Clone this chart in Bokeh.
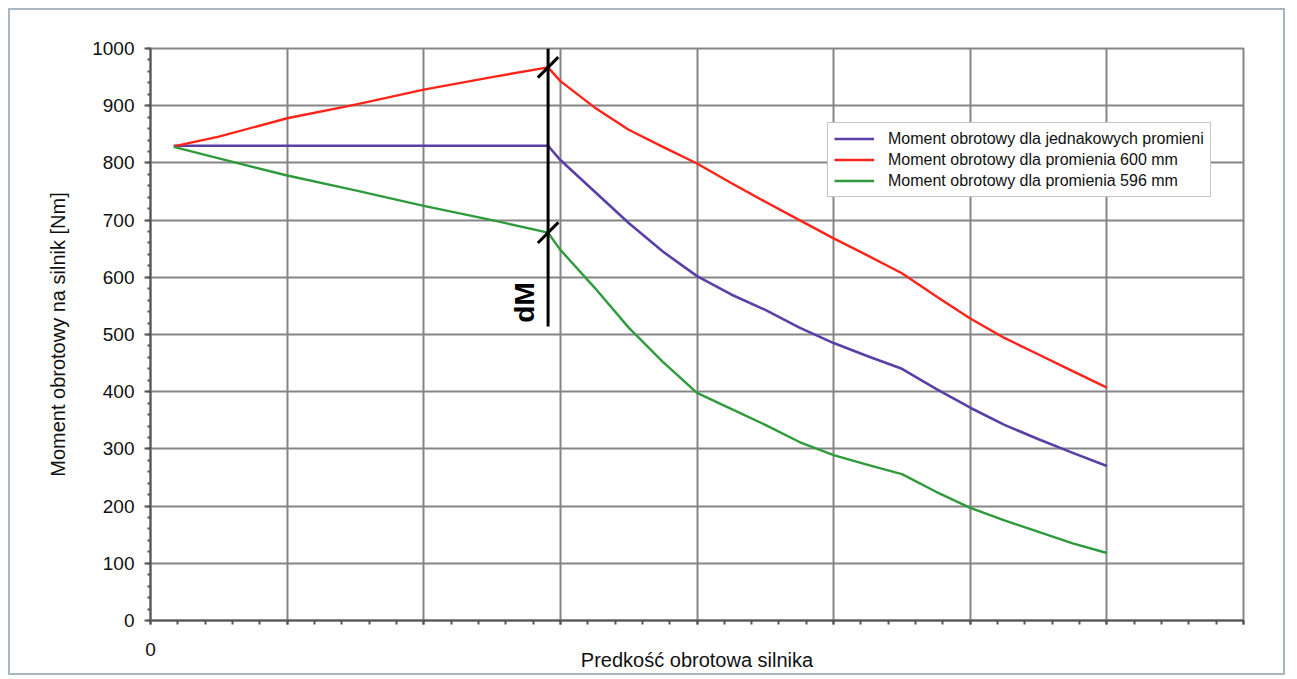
import math
from bokeh.plotting import figure
from bokeh.models import FixedTicker, Legend, LegendItem, Range1d
from bokeh.core.properties import value
from bokeh.embed import file_html
from bokeh.resources import INLINE

# ---- data (speed in grid units, torque in Nm) ----
x_equal = [0.17, 2.91, 3.0, 3.25, 3.5, 3.75, 4.0, 4.25, 4.5, 4.75, 5.0, 5.25, 5.5, 5.75, 6.0, 6.25, 6.5, 6.75, 7.0]
y_equal = [830, 830, 805, 750, 695, 645, 602, 570, 543, 512, 485, 462, 440, 405, 372, 342, 317, 293, 270]

x_600 = [0.17, 0.5, 1.0, 1.5, 2.0, 2.5, 2.91, 3.0, 3.25, 3.5, 3.75, 4.0, 4.25, 4.5, 4.75, 5.0, 5.25, 5.5, 5.75, 6.0, 6.25, 6.5, 6.75, 7.0]
y_600 = [829, 846, 878, 902, 928, 950, 967, 943, 897, 858, 828, 799, 765, 732, 700, 668, 638, 607, 567, 528, 494, 465, 436, 407]

x_596 = [0.17, 0.5, 1.0, 1.5, 2.0, 2.5, 2.91, 3.0, 3.25, 3.5, 3.75, 4.0, 4.25, 4.5, 4.75, 5.0, 5.25, 5.5, 5.75, 6.0, 6.25, 6.5, 6.75, 7.0]
y_596 = [828, 808, 778, 752, 725, 700, 678, 648, 582, 512, 452, 398, 370, 342, 312, 289, 272, 256, 225, 197, 175, 155, 135, 118]

labels = ["Moment obrotowy dla jednakowych promieni",
          "Moment obrotowy dla promienia 600 mm",
          "Moment obrotowy dla promienia 596 mm"]
colors = ["#5a3fa6", "#ff2318", "#2f9a3c"]

x_ticks = [0, 1, 2, 3, 4, 5, 6, 7, 8]
x_tick_labels = ["0", "", "", "", "", "", "", "", ""]
y_ticks = [0, 100, 200, 300, 400, 500, 600, 700, 800, 900, 1000]

break_x = 2.91
dm_line_bottom = 514
dm_text = "dM"

FONT = "Liberation Sans"

p = figure(width=1277, height=667, output_backend="svg", toolbar_location=None,
           x_range=Range1d(0, 8), y_range=Range1d(0, 1000),
           min_border_left=140, min_border_right=44, min_border_top=38, min_border_bottom=57,
           background_fill_color="white", border_fill_color="white")
p.styles = {"border": "2px solid #a9b7c3",
            "margin-left": "8px", "margin-top": "8px"}

# ticks
p.xaxis.ticker = FixedTicker(ticks=x_ticks, minor_ticks=[i * 0.2 for i in range(41)])
p.xaxis.major_label_overrides = {t: l for t, l in zip(x_ticks, x_tick_labels)}
p.yaxis.ticker = FixedTicker(ticks=y_ticks, minor_ticks=list(range(0, 1001, 20)))

for ax in (p.xaxis[0], p.yaxis[0]):
    ax.axis_line_color = "#555555"
    ax.axis_line_width = 2
    ax.major_tick_line_color = "#555555"
    ax.minor_tick_line_color = "#555555"
    ax.major_tick_line_width = 2
    ax.minor_tick_line_width = 2
    ax.major_tick_in = 0
    ax.minor_tick_in = 0
    ax.major_label_text_font = FONT
    ax.major_label_text_font_size = "19px"
    ax.major_label_text_color = "#111111"
    ax.axis_label_text_font = FONT
    ax.axis_label_text_font_size = "20px"
    ax.axis_label_text_font_style = "normal"
    ax.axis_label_text_color = "#111111"

p.xaxis.major_tick_out = 4
p.xaxis.minor_tick_out = 4
p.xaxis.major_label_standoff = 18
p.xaxis.axis_label = "Predkość obrotowa silnika"
p.xaxis.axis_label_standoff = -10

p.yaxis.major_tick_out = 6
p.yaxis.minor_tick_out = 3
p.yaxis.major_label_standoff = 10
p.yaxis.axis_label = "Moment obrotowy na silnik [Nm]"
p.yaxis.axis_label_standoff = 20

for g in (p.xgrid[0], p.ygrid[0]):
    g.grid_line_color = "#858585"
    g.grid_line_width = 2
    g.grid_line_alpha = 1
p.xgrid.ticker = FixedTicker(ticks=x_ticks)
p.ygrid.ticker = FixedTicker(ticks=y_ticks)
p.outline_line_color = "#858585"
p.outline_line_width = 2

# curves
r1 = p.line(x_equal, y_equal, line_color=colors[0], line_width=2.6, line_join="round")
r2 = p.line(x_600, y_600, line_color=colors[1], line_width=2.4, line_join="round")
r3 = p.line(x_596, y_596, line_color=colors[2], line_width=2.4, line_join="round")

# dM annotation
top_val = y_600[x_600.index(break_x)]
bot_val = y_596[x_596.index(break_x)]
p.line([break_x, break_x], [1000, dm_line_bottom], line_color="black", line_width=3)
dx, dy = 0.075, 18
p.line([break_x - dx, break_x + dx], [top_val - dy, top_val + dy], line_color="black", line_width=3)
p.line([break_x - dx, break_x + dx], [bot_val - dy, bot_val + dy], line_color="black", line_width=3)
p.text(x=[break_x - 0.17], y=[(bot_val + dm_line_bottom) / 2 - 40], text=[dm_text], angle=math.pi / 2,
       text_align="center", text_baseline="middle", text_font=value(FONT),
       text_font_size="28px", text_font_style="bold", text_color="black")

legend = Legend(items=[LegendItem(label=labels[0], renderers=[r1]),
                       LegendItem(label=labels[1], renderers=[r2]),
                       LegendItem(label=labels[2], renderers=[r3])],
                location=(677, 423), orientation="vertical")
legend.label_text_font = FONT
legend.label_text_font_size = "16px"
legend.label_text_color = "#111111"
legend.label_height = 19
legend.glyph_height = 19
legend.glyph_width = 40
legend.label_standoff = 14
legend.spacing = 2
legend.padding = 6
legend.margin = 0
legend.border_line_color = "#8a8a8a"
legend.border_line_width = 1.5
legend.background_fill_color = "white"
legend.background_fill_alpha = 1
p.add_layout(legend)

open("out.html", "w").write(file_html(p, INLINE))
